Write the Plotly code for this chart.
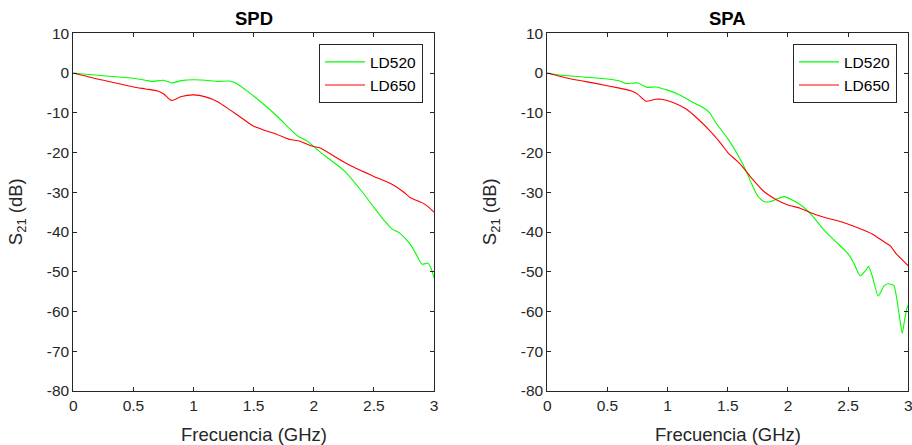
import plotly.graph_objects as go

W, H = 912, 445

# ---------------- data ----------------
spd_ld520_f = [0, 0.1, 0.3, 0.5, 0.6, 0.65, 0.75, 0.82, 0.9, 1.0, 1.1, 1.2, 1.3, 1.35, 1.45, 1.6, 1.7, 1.8,
               1.87, 1.95, 2.0, 2.1, 2.25, 2.4, 2.5, 2.6, 2.65, 2.72, 2.8, 2.85, 2.9, 2.95, 2.98, 3.0]
spd_ld520_s = [0, -0.3, -0.8, -1.3, -1.8, -2.1, -1.8, -2.5, -1.9, -1.7, -1.8, -2.1, -2.0, -2.5, -4.6, -8.3, -11, -14,
               -15.9, -17.2, -18.5, -21, -24.5, -29.8, -33.8, -37.6, -39.2, -40.4, -43, -45.5, -48.1, -47.8, -49.5, -51.5]

spd_ld650_f = [0, 0.2, 0.4, 0.5, 0.6, 0.7, 0.75, 0.8, 0.82, 0.9, 1.0, 1.1, 1.2, 1.3, 1.4, 1.5, 1.6, 1.7, 1.8, 1.88,
               1.95, 2.0, 2.05, 2.2, 2.3, 2.5, 2.65, 2.75, 2.8, 2.9, 2.95, 3.0]
spd_ld650_s = [0, -1.5, -2.8, -3.5, -4.0, -4.5, -5.2, -6.6, -6.9, -5.9, -5.5, -6.0, -7.2, -9.2, -11.3, -13.4, -14.5,
               -15.5, -16.7, -17.1, -18.0, -18.5, -18.8, -21.5, -23.2, -26.0, -28.0, -30.0, -31.3, -32.6, -33.6, -35.0]

spa_ld520_f = [0, 0.1, 0.3, 0.5, 0.6, 0.65, 0.75, 0.8, 0.83, 0.9, 1.0, 1.1, 1.2, 1.3, 1.35, 1.4, 1.5, 1.6, 1.65,
               1.7, 1.75, 1.8, 1.85, 1.9, 1.97, 2.05, 2.12, 2.2, 2.3, 2.4, 2.5, 2.55, 2.6, 2.65, 2.67, 2.7, 2.75,
               2.8, 2.83, 2.88, 2.9, 2.93, 2.95, 2.97, 2.99, 3.0]
spa_ld520_s = [0, -0.5, -1.0, -1.5, -2.0, -2.6, -2.5, -3.2, -3.6, -3.5, -4.3, -5.5, -7.2, -8.8, -10, -12.5, -16.5,
               -21.5, -24.5, -28, -31, -32.3, -32.4, -31.8, -31.1, -32.2, -33.5, -35.8, -39.5, -42.5, -45.5, -48,
               -51, -49.5, -48.6, -51, -56.1, -53.5, -53, -53.5, -56, -62, -65.5, -62, -59, -58.5]

spa_ld650_f = [0, 0.2, 0.4, 0.6, 0.7, 0.75, 0.82, 0.9, 0.95, 1.05, 1.15, 1.25, 1.35, 1.45, 1.5, 1.6, 1.7, 1.8,
               1.9, 2.0, 2.1, 2.2, 2.3, 2.45, 2.6, 2.7, 2.8, 2.85, 2.9, 2.95, 3.0]
spa_ld650_s = [0, -1.5, -2.6, -3.8, -4.5, -5.3, -7.1, -6.6, -6.6, -7.5, -9, -11.5, -14.5, -18, -20, -22.8, -26.5,
               -29.8, -31.8, -33.2, -34, -35.3, -36.3, -37.5, -39.2, -40.5, -42.5, -43.5, -45.5, -47, -48.5]

x_ticks = [0, 0.5, 1, 1.5, 2, 2.5, 3]
x_tick_text = ["0", "0.5", "1", "1.5", "2", "2.5", "3"]
y_ticks = [-80, -70, -60, -50, -40, -30, -20, -10, 0, 10]
y_tick_text = [str(v) for v in y_ticks]
titles = ["SPD", "SPA"]
series_names = ["LD520", "LD650"]
colors = ["#00ff00", "#ff0000"]

FONT = "Liberation Sans, Arial, sans-serif"

# ---------------- layout geometry (pixels) ----------------
LX0, LX1 = 73.3, 434.0
RX0, RX1 = 547.3, 908.3
PY0, PY1 = 33.3, 391.0  # top, bottom


def px(x):
    return x / W


def py(y):
    return 1 - y / H


fig = go.Figure()

panels = [
    ((spd_ld520_f, spd_ld520_s), (spd_ld650_f, spd_ld650_s), "x", "y", "legend"),
    ((spa_ld520_f, spa_ld520_s), (spa_ld650_f, spa_ld650_s), "x2", "y2", "legend2"),
]
for (g, r, xa, ya, lg) in panels:
    for (f, s), name, col in zip([g, r], series_names, colors):
        fig.add_trace(go.Scatter(
            x=f, y=s, mode="lines", name=name, xaxis=xa, yaxis=ya, legend=lg,
            line=dict(color=col, width=1.1, shape="spline", smoothing=0.6),
        ))

axis_common = dict(
    showgrid=False, zeroline=False, showline=True, mirror="ticks",
    linecolor="#262626", linewidth=1, ticks="inside", ticklen=4, tickcolor="#262626",
    tickfont=dict(family=FONT, size=15.5, color="#262626"),
    ticklabeloverflow="allow",
)

legend_common = dict(
    xanchor="right", yanchor="top",
    bgcolor="white", bordercolor="#262626", borderwidth=1,
    font=dict(family=FONT, size=15.5, color="#000000"),
    tracegroupgap=0, itemwidth=40,
)

fig.update_layout(
    width=W, height=H,
    margin=dict(l=0, r=0, t=0, b=0, autoexpand=False),
    paper_bgcolor="white", plot_bgcolor="white",
    showlegend=True,
    xaxis=dict(domain=[px(LX0), px(LX1)], range=[0, 3], tickvals=x_ticks, ticktext=x_tick_text,
               anchor="y", **axis_common),
    yaxis=dict(domain=[py(PY1), py(PY0)], range=[-80, 10], tickvals=y_ticks, ticktext=y_tick_text,
               anchor="x", **axis_common),
    xaxis2=dict(domain=[px(RX0), px(RX1)], range=[0, 3], tickvals=x_ticks, ticktext=x_tick_text,
                anchor="y2", **axis_common),
    yaxis2=dict(domain=[py(PY1), py(PY0)], range=[-80, 10], tickvals=y_ticks, ticktext=y_tick_text,
                anchor="x2", **axis_common),
    legend=dict(x=px(423), y=py(44.3), **legend_common),
    legend2=dict(x=px(897), y=py(44.3), **legend_common),
)

annots = []
for title, (x0, x1) in zip(titles, [(LX0, LX1), (RX0, RX1)]):
    cx = (x0 + x1) / 2
    annots.append(dict(text="<b>" + title + "</b>", x=px(cx), y=py(18.5), xref="paper", yref="paper",
                       showarrow=False, xanchor="center", yanchor="middle",
                       font=dict(family=FONT, size=18.5, color="#000000")))
    annots.append(dict(text="Frecuencia (GHz)", x=px(cx), y=py(434), xref="paper", yref="paper",
                       showarrow=False, xanchor="center", yanchor="middle",
                       font=dict(family=FONT, size=18.5, color="#262626")))
for lx in [17, 491]:
    annots.append(dict(text="S<sub>21</sub> (dB)", x=px(lx), y=py((PY0 + PY1) / 2), xref="paper", yref="paper",
                       showarrow=False, xanchor="center", yanchor="middle", textangle=-90,
                       font=dict(family=FONT, size=18.5, color="#262626")))
fig.update_layout(annotations=annots)

fig.write_html("out.html")
